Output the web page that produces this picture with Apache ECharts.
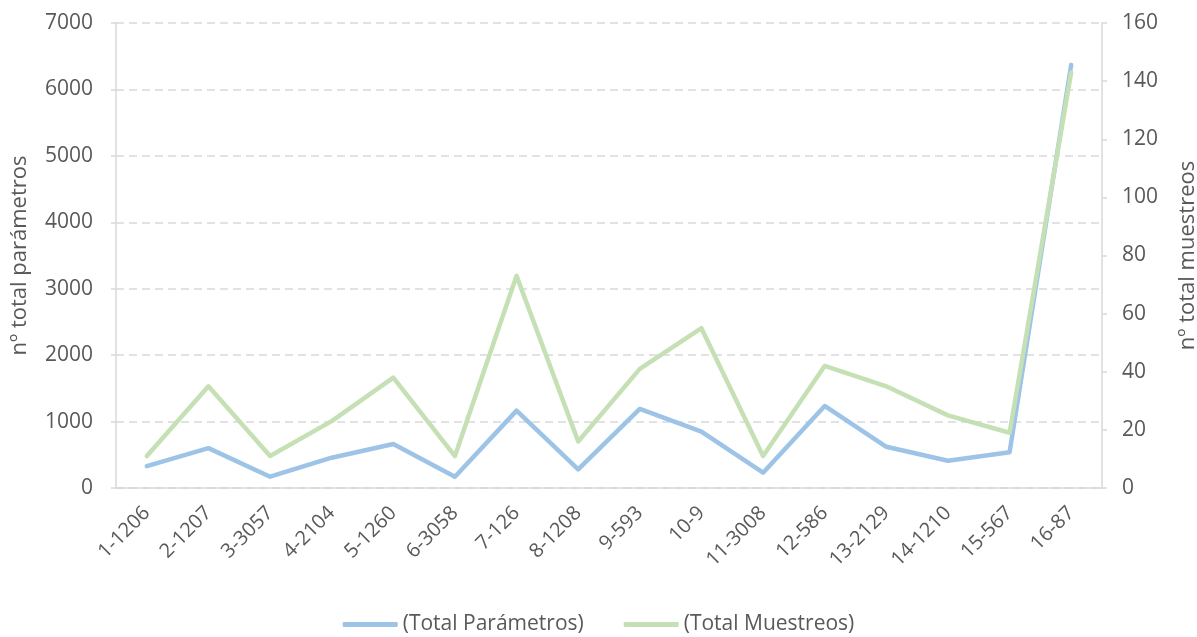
<!DOCTYPE html>
<html>
<head>
<meta charset="utf-8">
<script src="https://cdn.jsdelivr.net/npm/echarts@6/dist/echarts.min.js"></script>
<style>
  html, body { margin: 0; padding: 0; background: #fff; }
  #chart { width: 1197px; height: 637px; }
</style>
</head>
<body>
<div id="chart"></div>
<script>
  const categories = ['1-1206', '2-1207', '3-3057', '4-2104', '5-1260', '6-3058', '7-126', '8-1208',
    '9-593', '10-9', '11-3008', '12-586', '13-2129', '14-1210', '15-567', '16-87']
  const totalParametros = [330, 600, 170, 456, 662, 170, 1165, 282, 1190, 848, 230, 1235, 620, 410, 538, 6370]
  const totalMuestreos = [11, 35, 11, 23, 38, 11, 73, 16, 41, 55, 11, 42, 35, 25, 19, 143]

  const textColor = '#595959'
  const lineColor = '#d9d9d9'
  const font = '"Open Sans", "Liberation Sans", sans-serif'

  const option = {
    textStyle: { fontFamily: font, color: textColor },
    grid: { left: 116, right: 95, top: 23, bottom: 149, containLabel: false, outerBoundsMode: 'none' },
    legend: {
      top: 609,
      left: 'center',
      itemWidth: 55,
      itemHeight: 5,
      itemGap: 40,
      textStyle: { fontSize: 21, color: textColor, fontFamily: font },
      data: [
        { name: '(Total Parámetros)', icon: 'roundRect' },
        { name: '(Total Muestreos)', icon: 'roundRect' }
      ]
    },
    xAxis: {
      type: 'category',
      data: categories,
      boundaryGap: true,
      axisLine: { lineStyle: { color: lineColor, width: 1.5 } },
      axisTick: { show: false },
      axisLabel: { rotate: 45, interval: 0, fontSize: 20, color: textColor, margin: 22, fontFamily: font }
    },
    yAxis: [
      {
        type: 'value',
        min: 0, max: 7000, interval: 1000,
        name: 'nº total parámetros',
        nameLocation: 'middle',
        nameGap: 85,
        nameTextStyle: { fontSize: 22, color: textColor, fontFamily: font },
        axisLine: { show: true, lineStyle: { color: lineColor, width: 1.5 } },
        axisTick: { show: true, length: 5, lineStyle: { color: lineColor, width: 1.5 } },
        axisLabel: { fontSize: 21, color: textColor, margin: 23, fontFamily: font, formatter: v => String(v) },
        splitLine: { show: true, lineStyle: { color: lineColor, type: [8, 5], width: 1.5 } }
      },
      {
        type: 'value',
        min: 0, max: 160, interval: 20,
        name: 'nº total muestreos',
        nameLocation: 'middle',
        nameGap: 75,
        nameTextStyle: { fontSize: 22, color: textColor, fontFamily: font },
        axisLine: { show: true, lineStyle: { color: lineColor, width: 1.5 } },
        axisTick: { show: true, length: 5, lineStyle: { color: lineColor, width: 1.5 } },
        axisLabel: { fontSize: 21, color: textColor, margin: 20, fontFamily: font, formatter: v => String(v) },
        splitLine: { show: false }
      }
    ],
    series: [
      {
        name: '(Total Parámetros)',
        type: 'line',
        yAxisIndex: 0,
        data: totalParametros,
        symbol: 'none',
        color: '#9dc3e6',
        lineStyle: { width: 4.5, color: '#9dc3e6', cap: 'round', join: 'round' },
        z: 2
      },
      {
        name: '(Total Muestreos)',
        type: 'line',
        yAxisIndex: 1,
        data: totalMuestreos,
        symbol: 'none',
        color: '#c5e0b4',
        lineStyle: { width: 4.5, color: '#c5e0b4', cap: 'round', join: 'round' },
        z: 3
      }
    ]
  }

  const myChart = echarts.init(document.getElementById('chart'))
  myChart.setOption(option)
</script>
</body>
</html>
